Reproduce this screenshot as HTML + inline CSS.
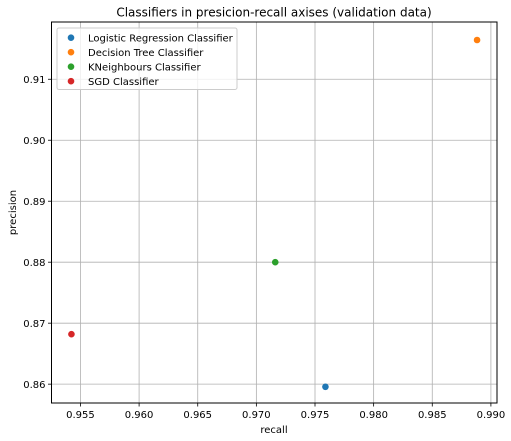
<!DOCTYPE html>
<html><head><meta charset="utf-8"><style>
html,body{margin:0;padding:0;background:#fff;}
svg{display:block;font-family:"DejaVu Sans","Liberation Sans",sans-serif;}
</style></head><body>
<svg id="chart" width="511" height="441" viewBox="0 0 511 441">
<rect x="0" y="0" width="511" height="441" fill="#fff"/>
<text x="274" y="16.5" font-size="12" text-anchor="middle" fill="#000">Classifiers in presicion-recall axises (validation data)</text>
<g id="grid"></g>
<g id="xticks"></g>
<g id="yticks"></g>
<g id="points"></g>
<rect x="51.5" y="22" width="445.5" height="381" fill="none" stroke="#000" stroke-width="1"/>
<text x="274" y="433" font-size="10" text-anchor="middle">recall</text>
<text transform="translate(16,212.5) rotate(-90)" font-size="10" text-anchor="middle">precision</text>
<g>
<rect x="57" y="28" width="180" height="61.5" rx="2" fill="#fff" fill-opacity="0.8" stroke="#ccc" stroke-width="1"/>
<g id="legend-items"></g>
</g>
</svg>
<script>
const names = ["Logistic Regression Classifier","Decision Tree Classifier","KNeighbours Classifier","SGD Classifier"];
const recallValues = [0.97589, 0.98882, 0.97161, 0.95423];
const precisionValues = [0.85957, 0.91644, 0.88000, 0.86820];
const colors = ["#1f77b4","#ff7f0e","#2ca02c","#d62728"];
const xTicks = [0.955,0.960,0.965,0.970,0.975,0.980,0.985,0.990];
const yTicks = [0.86,0.87,0.88,0.89,0.90,0.91];
const xMin = 0.95253, xMax = 0.99052, yMin = 0.85691, yMax = 0.91939;
const L = 51.5, R = 497, T = 22, B = 403;
const NS = "http://www.w3.org/2000/svg";
function sx(v){return L + (v - xMin)/(xMax - xMin)*(R - L);}
function sy(v){return B - (v - yMin)/(yMax - yMin)*(B - T);}
function mk(tag, attrs, parent){const e=document.createElementNS(NS,tag);for(const k in attrs)e.setAttribute(k,attrs[k]);parent.appendChild(e);return e;}
const grid=document.getElementById('grid'), xg=document.getElementById('xticks'), yg=document.getElementById('yticks'), pg=document.getElementById('points'), lg=document.getElementById('legend-items');
xTicks.forEach(t=>{
  const x=sx(t);
  const gl=mk('line',{x1:x,x2:x,y1:T,y2:B,stroke:'#b0b0b0','stroke-width':0.8},grid);
  
  
  const tk=mk('line',{x1:x,x2:x,y1:B,y2:B+3.5,stroke:'#000','stroke-width':0.8},xg);
  
  
  const tx=mk('text',{x:x,y:B+15,'font-size':10,'text-anchor':'middle'},xg);
  tx.textContent=t.toFixed(3);
  
  
});
yTicks.forEach(t=>{
  const y=sy(t);
  const gl=mk('line',{x1:L,x2:R,y1:y,y2:y,stroke:'#b0b0b0','stroke-width':0.8},grid);
  
  
  const tk=mk('line',{x1:L-3.5,x2:L,y1:y,y2:y,stroke:'#000','stroke-width':0.8},yg);
  
  
  const tx=mk('text',{x:L-6,y:y+3.6,'font-size':10,'text-anchor':'end'},yg);
  tx.textContent=t.toFixed(2);
  
  
});
names.forEach((n,i)=>{
  const c=mk('circle',{cx:sx(recallValues[i]),cy:sy(precisionValues[i]),r:3.3,fill:colors[i]},pg);
  
  
  const ly=37.7+i*14.5;
  const m=mk('circle',{cx:71,cy:ly,r:3.3,fill:colors[i]},lg);
  
  
  const t=mk('text',{x:88,y:ly+3.6,'font-size':10},lg);
  t.textContent=n;
  
  
});
</script>
</body></html>
